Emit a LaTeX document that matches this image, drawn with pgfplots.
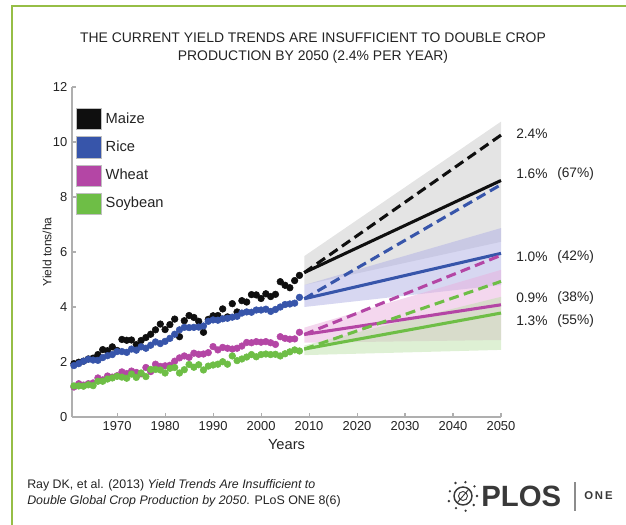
\documentclass[border=0pt]{standalone}
\usepackage{fontspec}
\setmainfont{Liberation Sans}
\usepackage{pgfplots}
\pgfplotsset{compat=1.18}
\definecolor{frame}{RGB}{150,190,70}
\definecolor{maizeC}{RGB}{15,15,15}
\definecolor{riceC}{RGB}{55,85,170}
\definecolor{wheatC}{RGB}{180,70,165}
\definecolor{soyC}{RGB}{110,190,70}
\definecolor{maizeB}{RGB}{201,201,201}
\definecolor{riceB}{RGB}{175,175,228}
\definecolor{wheatB}{RGB}{233,175,221}
\definecolor{soyB}{RGB}{189,225,169}
\definecolor{axisC}{RGB}{175,175,175}
\definecolor{textC}{RGB}{35,35,35}
\begin{document}
\begin{tikzpicture}[x=0.75pt,y=0.75pt]
\useasboundingbox (0,0) rectangle (626,525);
\draw[frame, line width=1.5pt] (12,0) -- (12,519) -- (626,519);
\node[align=center, text=textC, font=\fontsize{10.45}{13.5}\selectfont] at (313,477)
  {THE CURRENT YIELD TRENDS ARE INSUFFICIENT TO DOUBLE CROP\\PRODUCTION BY 2050 (2.4\% PER YEAR)};

\begin{axis}[
  at={(54pt,81pt)}, anchor=south west,
  scale only axis, width=321.75pt, height=247.5pt,
  xmin=1960.6, xmax=2050, ymin=0, ymax=12,
  axis x line*=bottom, axis y line*=left,
  axis line style={axisC, line width=1pt},
  xtick={1970,1980,...,2050}, ytick={0,2,...,12},
  tick style={axisC, line width=0.8pt}, tick align=inside,
  major tick length=3pt,
  xticklabel style={font=\fontsize{9.7}{11}\selectfont, text=textC},
  yticklabel style={font=\fontsize{9.7}{11}\selectfont, text=textC},
  /pgf/number format/assume math mode=true,
  /pgf/number format/1000 sep={},
  xlabel={Years}, ylabel={Yield tons/ha},
  xlabel style={at={(rel axis cs:0.5,0)}, anchor=center, yshift=-21pt, font=\fontsize{11}{13}\selectfont, text=textC},
  ylabel style={at={(rel axis cs:0,0.5)}, anchor=center, yshift=18.75pt, font=\fontsize{9}{11}\selectfont, text=textC},
  clip=false,
  legend style={at={(rel axis cs:0.0093,0.936)}, anchor=north west, draw=none, fill=none,
    inner sep=0pt, nodes={inner sep=0pt}, row sep=4.85pt, column sep=3.2pt,
    font=\fontsize{11}{13}\selectfont, text=textC},
  legend cell align=left,
]
% legend
\addlegendimage{legend image code/.code={\draw[fill=maizeC, draw=black!25] (0pt,-7.9pt) rectangle (18.5pt,7.9pt);}}
\addlegendentry{Maize}
\addlegendimage{legend image code/.code={\draw[fill=riceC, draw=black!25] (0pt,-7.9pt) rectangle (18.5pt,7.9pt);}}
\addlegendentry{Rice}
\addlegendimage{legend image code/.code={\draw[fill=wheatC, draw=black!25] (0pt,-7.9pt) rectangle (18.5pt,7.9pt);}}
\addlegendentry{Wheat}
\addlegendimage{legend image code/.code={\draw[fill=soyC, draw=black!25] (0pt,-7.9pt) rectangle (18.5pt,7.9pt);}}
\addlegendentry{Soybean}

% projection bands
\addplot[forget plot, draw=none, fill=maizeB, fill opacity=0.5] coordinates {(2009,4.8) (2050,6.37) (2050,10.74) (2009,5.85)};
\addplot[forget plot, draw=none, fill=riceB, fill opacity=0.5] coordinates {(2009,4.0) (2050,4.8) (2050,6.87) (2009,4.8)};
\addplot[forget plot, draw=none, fill=wheatB, fill opacity=0.5] coordinates {(2009,2.7) (2050,2.8) (2050,5.35) (2009,3.25)};
\addplot[forget plot, draw=none, fill=soyB, fill opacity=0.5] coordinates {(2009,2.25) (2050,2.44) (2050,4.37) (2009,2.6)};

% projections
\addplot[forget plot, maizeC, line width=2.3pt, dash pattern=on 7.5pt off 4pt] coordinates {(2009,5.25) (2050,10.25)};
\addplot[forget plot, maizeC, line width=2.3pt] coordinates {(2009,5.25) (2050,8.6)};
\addplot[forget plot, riceC, line width=2.3pt, dash pattern=on 7.5pt off 4pt] coordinates {(2009,4.3) (2050,8.45)};
\addplot[forget plot, riceC, line width=2.3pt] coordinates {(2009,4.3) (2050,5.95)};
\addplot[forget plot, wheatC, line width=2.3pt, dash pattern=on 7.5pt off 4pt] coordinates {(2009,3.0) (2050,5.88)};
\addplot[forget plot, wheatC, line width=2.3pt] coordinates {(2009,3.0) (2050,4.08)};
\addplot[forget plot, soyC, line width=2.3pt, dash pattern=on 7.5pt off 4pt] coordinates {(2009,2.47) (2050,4.93)};
\addplot[forget plot, soyC, line width=2.3pt] coordinates {(2009,2.47) (2050,3.78)};

% observed yields
\addplot[forget plot, only marks, mark=*, mark size=2.5pt, mark options={draw=maizeC, fill=maizeC}] coordinates {
(1961,1.94) (1962,1.99) (1963,2.03) (1964,2.11) (1965,2.14) (1966,2.27) (1967,2.45) (1968,2.41)
(1969,2.55) (1970,2.42) (1971,2.82) (1972,2.79) (1973,2.80) (1974,2.63) (1975,2.78) (1976,2.89)
(1977,3.01) (1978,3.17) (1979,3.38) (1980,3.18) (1981,3.36) (1982,3.56) (1983,2.92) (1984,3.50)
(1985,3.69) (1986,3.62) (1987,3.48) (1988,3.08) (1989,3.55) (1990,3.68) (1991,3.69) (1992,3.93)
(1993,3.64) (1994,4.12) (1995,3.82) (1996,4.23) (1997,4.18) (1998,4.45) (1999,4.44) (2000,4.31)
(2001,4.48) (2002,4.38) (2003,4.46) (2004,4.92) (2005,4.79) (2006,4.70) (2007,4.96) (2008,5.15)};
\addplot[forget plot, only marks, mark=*, mark size=2.5pt, mark options={draw=riceC, fill=riceC}] coordinates {
(1961,1.87) (1962,1.94) (1963,2.03) (1964,2.10) (1965,2.07) (1966,2.06) (1967,2.16) (1968,2.23)
(1969,2.27) (1970,2.38) (1971,2.38) (1972,2.35) (1973,2.47) (1974,2.43) (1975,2.55) (1976,2.50)
(1977,2.61) (1978,2.73) (1979,2.67) (1980,2.75) (1981,2.86) (1982,3.01) (1983,3.17) (1984,3.26)
(1985,3.25) (1986,3.26) (1987,3.27) (1988,3.31) (1989,3.48) (1990,3.53) (1991,3.52) (1992,3.57)
(1993,3.59) (1994,3.63) (1995,3.66) (1996,3.78) (1997,3.82) (1998,3.81) (1999,3.89) (2000,3.89)
(2001,3.92) (2002,3.84) (2003,3.91) (2004,4.00) (2005,4.09) (2006,4.11) (2007,4.14) (2008,4.35)};
\addplot[forget plot, only marks, mark=*, mark size=2.5pt, mark options={draw=wheatC, fill=wheatC}] coordinates {
(1961,1.09) (1962,1.21) (1963,1.16) (1964,1.21) (1965,1.24) (1966,1.42) (1967,1.35) (1968,1.49)
(1969,1.45) (1970,1.50) (1971,1.64) (1972,1.58) (1973,1.67) (1974,1.62) (1975,1.57) (1976,1.80)
(1977,1.65) (1978,1.92) (1979,1.84) (1980,1.86) (1981,1.88) (1982,2.03) (1983,2.15) (1984,2.22)
(1985,2.17) (1986,2.32) (1987,2.28) (1988,2.29) (1989,2.34) (1990,2.56) (1991,2.44) (1992,2.53)
(1993,2.50) (1994,2.47) (1995,2.50) (1996,2.58) (1997,2.71) (1998,2.70) (1999,2.74) (2000,2.72)
(2001,2.74) (2002,2.70) (2003,2.64) (2004,2.92) (2005,2.86) (2006,2.83) (2007,2.84) (2008,3.08)};
\addplot[forget plot, only marks, mark=*, mark size=2.5pt, mark options={draw=soyC, fill=soyC}] coordinates {
(1961,1.13) (1962,1.13) (1963,1.12) (1964,1.17) (1965,1.14) (1966,1.30) (1967,1.30) (1968,1.38)
(1969,1.42) (1970,1.48) (1971,1.45) (1972,1.41) (1973,1.56) (1974,1.44) (1975,1.60) (1976,1.47)
(1977,1.73) (1978,1.73) (1979,1.71) (1980,1.60) (1981,1.77) (1982,1.80) (1983,1.60) (1984,1.72)
(1985,1.91) (1986,1.81) (1987,1.90) (1988,1.71) (1989,1.85) (1990,1.89) (1991,1.92) (1992,2.01)
(1993,1.92) (1994,2.22) (1995,2.05) (1996,2.11) (1997,2.18) (1998,2.27) (1999,2.19) (2000,2.27)
(2001,2.29) (2002,2.27) (2003,2.28) (2004,2.22) (2005,2.30) (2006,2.37) (2007,2.44) (2008,2.40)};
\end{axis}

% growth rate labels
\begin{scope}[font=\fontsize{10.3}{12}\selectfont, text=textC]
\node[anchor=west, inner sep=0pt] at (516,391) {2.4\%};
\node[anchor=west, inner sep=0pt] at (516,351) {1.6\%};
\node[anchor=west, inner sep=0pt] at (557,351) {(67\%)};
\node[anchor=west, inner sep=0pt] at (516,268) {1.0\%};
\node[anchor=west, inner sep=0pt] at (557,268) {(42\%)};
\node[anchor=west, inner sep=0pt] at (516,227) {0.9\%};
\node[anchor=west, inner sep=0pt] at (557,227) {(38\%)};
\node[anchor=west, inner sep=0pt] at (516,204) {1.3\%};
\node[anchor=west, inner sep=0pt] at (557,204) {(55\%)};
\end{scope}

% citation
\begin{scope}[font=\fontsize{9.3}{11}\selectfont, text=textC]
\node[anchor=west, inner sep=0pt] at (27,40) {Ray DK, et al. (2013) \textit{Yield Trends Are Insufficient to}};
\node[anchor=west, inner sep=0pt] at (27,24) {\textit{Double Global Crop Production by 2050}. PLoS ONE 8(6)};
\end{scope}

% PLOS ONE logo
\begin{scope}[textC!90]
\draw[line width=1.1pt] (463,29) circle (9);
\draw[line width=0.7pt] (463,29) circle (4.5);
\draw[line width=0.7pt] (457,22) -- (469,36);
\foreach \a/\r in {0/14,40/15,80/14,120/15,160/14,200/15,240/14,280/15,320/14}
  \fill[shift={(463,29)}] (\a:\r) circle (1.3);
\node[anchor=west, inner sep=0pt, font=\fontsize{22}{24}\selectfont\bfseries] at (481,29) {PLOS};
\draw[black!45, line width=0.8pt] (575,14) -- (575,43);
\node[anchor=west, inner sep=0pt, font=\fontsize{8.5}{10}\selectfont\bfseries] at (584,29) {O\,N\,E};
\end{scope}
\end{tikzpicture}
\end{document}
